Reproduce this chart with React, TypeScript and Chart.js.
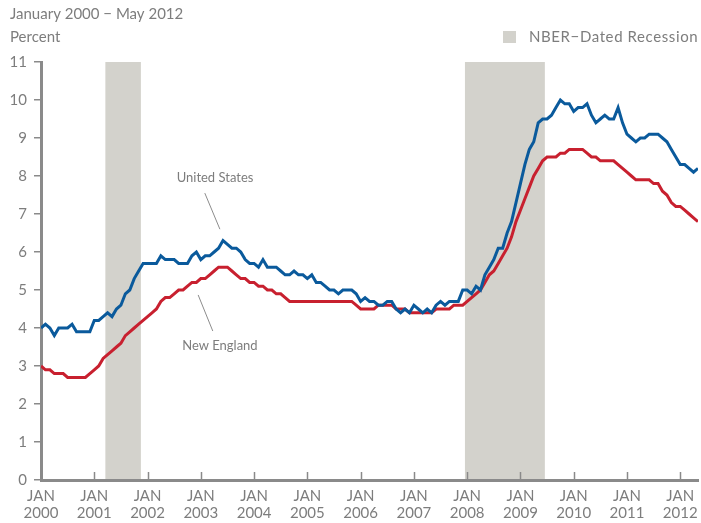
import { useEffect, useRef } from "react";
import { Chart, registerables } from "chart.js";

Chart.register(...registerables);

// ---- data ----
const years = ["2000", "2001", "2002", "2003", "2004", "2005", "2006", "2007", "2008", "2009", "2010", "2011", "2012"];
const monthTickLabel = "JAN";
const yTicks = [0, 1, 2, 3, 4, 5, 6, 7, 8, 9, 10, 11];

// Monthly unemployment rate, Jan 2000 – May 2012 (percent)
const usRate = [
  4.0, 4.1, 4.0, 3.8, 4.0, 4.0, 4.0, 4.1, 3.9, 3.9, 3.9, 3.9,
  4.2, 4.2, 4.3, 4.4, 4.3, 4.5, 4.6, 4.9, 5.0, 5.3, 5.5, 5.7,
  5.7, 5.7, 5.7, 5.9, 5.8, 5.8, 5.8, 5.7, 5.7, 5.7, 5.9, 6.0,
  5.8, 5.9, 5.9, 6.0, 6.1, 6.3, 6.2, 6.1, 6.1, 6.0, 5.8, 5.7,
  5.7, 5.6, 5.8, 5.6, 5.6, 5.6, 5.5, 5.4, 5.4, 5.5, 5.4, 5.4,
  5.3, 5.4, 5.2, 5.2, 5.1, 5.0, 5.0, 4.9, 5.0, 5.0, 5.0, 4.9,
  4.7, 4.8, 4.7, 4.7, 4.6, 4.6, 4.7, 4.7, 4.5, 4.4, 4.5, 4.4,
  4.6, 4.5, 4.4, 4.5, 4.4, 4.6, 4.7, 4.6, 4.7, 4.7, 4.7, 5.0,
  5.0, 4.9, 5.1, 5.0, 5.4, 5.6, 5.8, 6.1, 6.1, 6.5, 6.8, 7.3,
  7.8, 8.3, 8.7, 8.9, 9.4, 9.5, 9.5, 9.6, 9.8, 10.0, 9.9, 9.9,
  9.7, 9.8, 9.8, 9.9, 9.6, 9.4, 9.5, 9.6, 9.5, 9.5, 9.8, 9.4,
  9.1, 9.0, 8.9, 9.0, 9.0, 9.1, 9.1, 9.1, 9.0, 8.9, 8.7, 8.5,
  8.3, 8.3, 8.2, 8.1, 8.2,
];

const neRate = [
  3.0, 2.9, 2.9, 2.8, 2.8, 2.8, 2.7, 2.7, 2.7, 2.7, 2.7, 2.8,
  2.9, 3.0, 3.2, 3.3, 3.4, 3.5, 3.6, 3.8, 3.9, 4.0, 4.1, 4.2,
  4.3, 4.4, 4.5, 4.7, 4.8, 4.8, 4.9, 5.0, 5.0, 5.1, 5.2, 5.2,
  5.3, 5.3, 5.4, 5.5, 5.6, 5.6, 5.6, 5.5, 5.4, 5.3, 5.3, 5.2,
  5.2, 5.1, 5.1, 5.0, 5.0, 4.9, 4.9, 4.8, 4.7, 4.7, 4.7, 4.7,
  4.7, 4.7, 4.7, 4.7, 4.7, 4.7, 4.7, 4.7, 4.7, 4.7, 4.7, 4.6,
  4.5, 4.5, 4.5, 4.5, 4.6, 4.6, 4.6, 4.6, 4.5, 4.5, 4.5, 4.4,
  4.4, 4.4, 4.4, 4.4, 4.4, 4.5, 4.5, 4.5, 4.5, 4.6, 4.6, 4.6,
  4.7, 4.8, 4.9, 5.0, 5.2, 5.4, 5.5, 5.7, 5.9, 6.1, 6.4, 6.8,
  7.1, 7.4, 7.7, 8.0, 8.2, 8.4, 8.5, 8.5, 8.5, 8.6, 8.6, 8.7,
  8.7, 8.7, 8.7, 8.6, 8.5, 8.5, 8.4, 8.4, 8.4, 8.4, 8.3, 8.2,
  8.1, 8.0, 7.9, 7.9, 7.9, 7.9, 7.8, 7.8, 7.6, 7.5, 7.3, 7.2,
  7.2, 7.1, 7.0, 6.9, 6.8,
];

// NBER recessions as month indices from Jan 2000 (Mar 2001–Nov 2001, Dec 2007–Jun 2009)
const recessionStart = [14, 95];
const recessionEnd = [22, 113];

const titleText = "January 2000 \u2212 May 2012";
const unitText = "Percent";
const legendText = "NBER\u2212Dated Recession";
const usName = "United States";
const neName = "New England";

// ---- style ----
const FONT = "Lato, 'Open Sans', sans-serif";
const TEXT = "#7d7d7d";
const AXIS = "#8a8a8a";
const BAND = "#d3d2cc";
const BLUE = "#0a5a9c";
const RED = "#c8202f";

export default function App() {
  const ref = useRef<HTMLCanvasElement | null>(null);

  useEffect(() => {
    const canvas = ref.current;
    if (!canvas) return;

    const decor = {
      id: "decor",
      beforeDraw(chart: any) {
        const { ctx, chartArea, scales } = chart;
        const x = scales.x;
        ctx.save();
        ctx.fillStyle = BAND;
        recessionStart.forEach((s, i) => {
          const x0 = x.getPixelForValue(s + 0.5);
          const x1 = x.getPixelForValue(recessionEnd[i] + 0.5);
          ctx.fillRect(x0, chartArea.top, x1 - x0, chartArea.bottom - chartArea.top);
        });
        ctx.restore();
      },
      afterDraw(chart: any) {
        const { ctx, chartArea, scales } = chart;
        const x = scales.x;
        const y = scales.y;
        ctx.save();
        // inward x tick marks
        ctx.strokeStyle = AXIS;
        ctx.lineWidth = 1.5;
        years.forEach((_, i) => {
          const px = Math.round(x.getPixelForValue(i * 12)) + 0.5;
          if (i === 0) return;
          ctx.beginPath();
          ctx.moveTo(px, chartArea.bottom);
          ctx.lineTo(px, chartArea.bottom - 8);
          ctx.stroke();
        });
        // titles
        ctx.fillStyle = TEXT;
        ctx.font = `15px ${FONT}`;
        ctx.textAlign = "left";
        ctx.textBaseline = "alphabetic";
        ctx.fillText(titleText, 10, 19);
        ctx.fillText(unitText, 10, 42);
        // legend
        ctx.fillStyle = BAND;
        ctx.fillRect(503, 31, 13, 12);
        ctx.fillStyle = TEXT;
        ctx.textAlign = "left";
        (ctx as any).letterSpacing = "0.6px";
        ctx.fillText(legendText, 529, 42);
        (ctx as any).letterSpacing = "0px";
        // annotations
        ctx.font = `13px ${FONT}`;
        ctx.textAlign = "center";
        ctx.textBaseline = "middle";
        ctx.fillText(usName, x.getPixelForValue(39.2), y.getPixelForValue(7.95));
        ctx.fillText(neName, x.getPixelForValue(40.3), y.getPixelForValue(3.53));
        ctx.strokeStyle = "#8c8c8c";
        ctx.lineWidth = 1;
        ctx.beginPath();
        ctx.moveTo(x.getPixelForValue(36.9), y.getPixelForValue(7.55));
        ctx.lineTo(x.getPixelForValue(40.3), y.getPixelForValue(6.6));
        ctx.moveTo(x.getPixelForValue(35.4), y.getPixelForValue(4.87));
        ctx.lineTo(x.getPixelForValue(38.7), y.getPixelForValue(3.92));
        ctx.stroke();
        ctx.restore();
      },
    };

    const chart = new Chart(canvas, {
      type: "line",
      data: {
        datasets: [
          {
            label: usName,
            data: usRate.map((v, i) => ({ x: i, y: v })),
            borderColor: BLUE,
            borderWidth: 3,
            pointRadius: 0,
            tension: 0,
            fill: false,
          },
          {
            label: neName,
            data: neRate.map((v, i) => ({ x: i, y: v })),
            borderColor: RED,
            borderWidth: 3,
            pointRadius: 0,
            tension: 0,
            fill: false,
          },
        ],
      },
      options: {
        animation: false,
        responsive: false,
        devicePixelRatio: 1,
        layout: { padding: { top: 62, right: 3, bottom: 0, left: 0 } },
        plugins: {
          legend: { display: false },
          tooltip: { enabled: false },
          title: { display: false },
        },
        scales: {
          x: {
            type: "linear",
            min: 0,
            max: usRate.length - 1,
            afterBuildTicks: (s: any) => {
              s.ticks = years.map((_, i) => ({ value: i * 12 }));
            },
            afterFit: (s: any) => {
              s.height = 43;
              s.paddingLeft = 0;
              s.paddingRight = 0;
            },
            border: { display: true, color: AXIS, width: 3 },
            grid: { display: true, drawOnChartArea: false, drawTicks: false },
            ticks: {
              autoSkip: false,
              maxRotation: 0,
              padding: 8,
              color: TEXT,
              font: { family: FONT, size: 15, lineHeight: 1.1 },
              callback: (v: any) => [monthTickLabel, years[Math.round(Number(v) / 12)]],
            },
          },
          y: {
            min: yTicks[0],
            max: yTicks[yTicks.length - 1],
            afterBuildTicks: (s: any) => {
              s.ticks = yTicks.map((v) => ({ value: v }));
            },
            afterFit: (s: any) => {
              s.width = 41;
            },
            border: { display: true, color: AXIS, width: 3 },
            grid: { display: true, drawOnChartArea: false, drawTicks: true, tickLength: 7, color: AXIS, lineWidth: 1.5 },
            ticks: {
              padding: 7,
              color: TEXT,
              font: { family: FONT, size: 15 },
            },
          },
        },
      },
      plugins: [decor],
    });

    return () => chart.destroy();
  }, []);

  return (
    <div style={{ position: "absolute", left: 0, top: 0, width: 701, height: 523, background: "#fff" }}>
      <canvas ref={ref} width={701} height={523} />
    </div>
  );
}
